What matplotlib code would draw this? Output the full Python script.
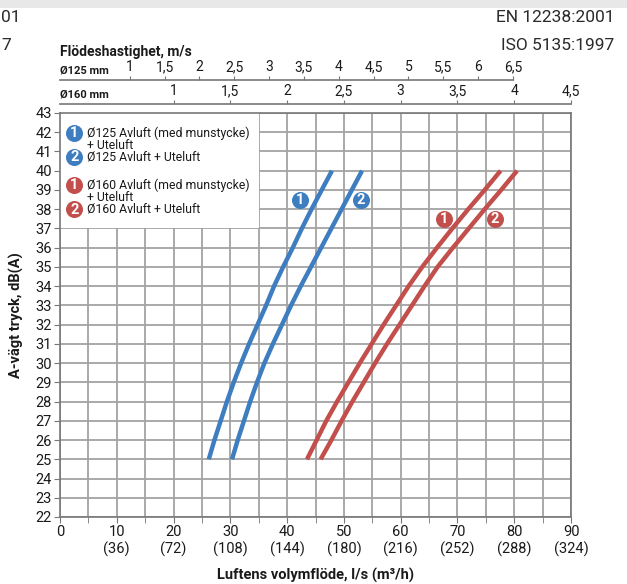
import numpy as np
import matplotlib
matplotlib.use("Agg")
import matplotlib.pyplot as plt
from matplotlib.patches import Rectangle

plt.rcParams['font.family'] = ['Roboto', 'DejaVu Sans']

# sound pressure levels, dB(A)
levels = np.arange(25, 41)

# air flow in l/s at each level
flow_125_nozzle = [26.2, 27.2, 28.3, 29.4, 30.6, 31.9, 33.3, 34.8, 36.3, 37.7, 39.3, 41.0, 42.6, 44.3, 46.1, 47.9]
flow_125_plain = [30.3, 31.3, 32.4, 33.5, 34.7, 36.0, 37.5, 39.1, 40.7, 42.4, 44.2, 46.0, 47.8, 49.6, 51.4, 53.2]
flow_160_nozzle = [43.5, 45.2, 46.9, 48.8, 50.8, 52.8, 54.9, 57.0, 59.2, 61.4, 63.8, 66.4, 69.1, 71.9, 74.8, 77.6]
flow_160_plain = [45.9, 47.8, 49.6, 51.5, 53.5, 55.5, 57.6, 59.8, 62.0, 64.2, 66.5, 69.2, 72.0, 74.8, 77.7, 80.5]

legend_texts = ["Ø125 Avluft (med munstycke)\n+ Uteluft",
                "Ø125 Avluft + Uteluft",
                "Ø160 Avluft (med munstycke)\n+ Uteluft",
                "Ø160 Avluft + Uteluft"]

x_major = np.arange(0, 91, 10)
x_labels = ["0"] + ["%d\n(%d)" % (q, q * 3.6) for q in x_major[1:]]
v125_ticks = [1, 1.5, 2, 2.5, 3, 3.5, 4, 4.5, 5, 5.5, 6, 6.5]
v160_ticks = [1, 1.5, 2, 2.5, 3, 3.5, 4, 4.5]

BLUE = "#3d7dc0"
RED = "#c24f4c"
GRID = "#a3a3a3"
TXT = "#1a1a1a"


def badge(ax, x, y, num, color):
    ax.scatter([x], [y], s=150, color=color, zorder=6, linewidths=0)
    ax.text(x, y - 0.02, str(num), color="white", fontsize=10.5, fontweight="bold",
            ha="center", va="center", zorder=7)


fig = plt.figure(figsize=(6.27, 5.84), dpi=100)
left, right, bottom, top = 60 / 627, 571 / 627, 1 - 517 / 584, 1 - 113 / 584
ax = fig.add_axes([left, bottom, right - left, top - bottom])

ax.set_xlim(0, 90)
ax.set_ylim(22, 43)
ax.set_xticks(x_major)
ax.set_xticklabels(x_labels)
ax.set_xticks(np.arange(5, 90, 10), minor=True)
ax.set_yticks(np.arange(22, 44))
ax.grid(True, which="both", color=GRID, linewidth=1.3, zorder=0)
ax.set_axisbelow(True)
ax.tick_params(axis="both", which="both", length=4, color="#777777", labelsize=10.5,
               labelcolor=TXT, pad=2)
for s in ax.spines.values():
    s.set_color("#777777")
    s.set_linewidth(1.2)

# white panel holding the legend
ax.add_patch(Rectangle((0, 37), 35, 6, facecolor="white", edgecolor="none", zorder=2))

ax.plot(flow_125_nozzle, levels, color=BLUE, lw=3.2, solid_capstyle="butt", zorder=4)
ax.plot(flow_125_plain, levels, color=BLUE, lw=3.2, solid_capstyle="butt", zorder=4)
ax.plot(flow_160_nozzle, levels, color=RED, lw=3.2, solid_capstyle="butt", zorder=4)
ax.plot(flow_160_plain, levels, color=RED, lw=3.2, solid_capstyle="butt", zorder=4)

badge(ax, 42.3, 38.5, 1, BLUE)
badge(ax, 53.0, 38.5, 2, BLUE)
badge(ax, 67.7, 37.5, 1, RED)
badge(ax, 76.6, 37.5, 2, RED)

legend_y = [41.98, 40.71, 39.26, 38.0]
legend_num = [1, 2, 1, 2]
legend_col = [BLUE, BLUE, RED, RED]
for y, n, c, t in zip(legend_y, legend_num, legend_col, legend_texts):
    badge(ax, 2.5, y, n, c)
    ax.text(4.7, y + 0.33, t, fontsize=8.8, color=TXT, ha="left", va="top",
            linespacing=0.9, zorder=7)

ax.set_xlabel("Luftens volymflöde, l/s (m³/h)", fontsize=10.5, fontweight="bold",
              color=TXT, labelpad=8)
ax.set_ylabel("A-vägt tryck, dB(A)", fontsize=10.5, fontweight="bold",
              color=TXT, labelpad=8)

# velocity scales for the two duct sizes
area125 = np.pi * 0.0625 ** 2 * 1000
area160 = np.pi * 0.08 ** 2 * 1000
for ypix, area, ticks, name in [(80, area125, v125_ticks, "Ø125 mm"),
                                 (104, area160, v160_ticks, "Ø160 mm")]:
    vax = fig.add_axes([left, 1 - ypix / 584, right - left, 0.0001])
    vax.set_xlim(0, 90 / area)
    vax.set_ylim(0, 1)
    for k in ["left", "right", "bottom"]:
        vax.spines[k].set_visible(False)
    vax.spines["top"].set_color("#777777")
    vax.spines["top"].set_linewidth(1.2)
    vax.spines["top"].set_bounds(0, ticks[-1])
    vax.patch.set_visible(False)
    vax.set_yticks([])
    vax.xaxis.tick_top()
    vax.set_xticks(ticks)
    vax.set_xticklabels([("%g" % v).replace(".", ",") for v in ticks])
    vax.tick_params(axis="x", length=3, color="#777777", labelsize=10, labelcolor=TXT, pad=1)
    fig.text(left, 1 - (ypix - 5) / 584, name, fontsize=8, fontweight="bold", color=TXT,
             ha="left", va="bottom")

fig.text(left, 1 - 59 / 584, "Flödeshastighet, m/s", fontsize=10, fontweight="bold",
         color=TXT, ha="left", va="bottom")

# standards header
fig.patches.append(Rectangle((0, 1 - 8 / 584), 1, 8 / 584, transform=fig.transFigure,
                             facecolor="#e8e8e8", edgecolor="none"))
fig.text(614 / 627, 1 - 17 / 584, "EN 12238:2001", fontsize=12.5, color="#2a2a2a",
         ha="right", va="center")
fig.text(614 / 627, 1 - 45 / 584, "ISO 5135:1997", fontsize=12.5, color="#2a2a2a",
         ha="right", va="center")
fig.text(1 / 627, 1 - 17 / 584, "01", fontsize=12.5, color="#2a2a2a",
         ha="left", va="center")
fig.text(1 / 627, 1 - 45 / 584, "7", fontsize=12.5, color="#2a2a2a",
         ha="left", va="center")

fig.savefig("out.png", dpi=100)
